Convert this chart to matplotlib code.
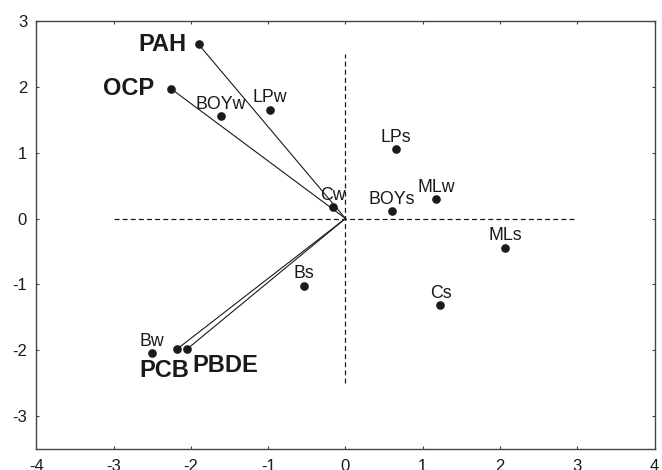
import matplotlib
matplotlib.use("Agg")
import matplotlib.pyplot as plt

plt.rcParams['font.family'] = ['Liberation Sans', 'DejaVu Sans']

# Sample scores
sample_names = ["BOYw", "LPw", "Cw", "LPs", "BOYs", "MLw", "MLs", "Cs", "Bs", "Bw"]
sample_x = [-1.61, -0.98, -0.16, 0.65, 0.60, 1.17, 2.07, 1.23, -0.54, -2.50]
sample_y = [1.55, 1.65, 0.17, 1.05, 0.11, 0.29, -0.44, -1.31, -1.02, -2.04]

# Variable loadings (vectors from origin)
var_names = ["PAH", "OCP", "PCB", "PBDE"]
var_x = [-1.90, -2.26, -2.18, -2.05]
var_y = [2.64, 1.97, -1.98, -1.98]

xticks = [-4, -3, -2, -1, 0, 1, 2, 3, 4]
yticks = [-3, -2, -1, 0, 1, 2, 3]

fig = plt.figure(figsize=(6.62, 4.70), dpi=100)
ax = fig.add_axes([0.055, 0.044, 0.9337, 0.912])
ax.set_xlim(-4, 4)
ax.set_ylim(-3.5, 3)

dark = '#1a1a1a'

# dashed reference axes
ax.plot([-3, 3], [0, 0], ls=(0, (4, 2.5)), color=dark, lw=0.9, zorder=1)
ax.plot([0, 0], [-2.5, 2.5], ls=(0, (4, 2.5)), color=dark, lw=0.9, zorder=1)

# vectors
for vx, vy in zip(var_x, var_y):
    ax.plot([0, vx], [0, vy], color=dark, lw=0.8, zorder=2)

ax.plot(var_x, var_y, 'o', color=dark, ms=5.2, zorder=3)
ax.plot(sample_x, sample_y, 'o', color=dark, ms=5.2, zorder=3)

# sample labels above points
for n, sx, sy in zip(sample_names, sample_x, sample_y):
    ax.annotate(n, (sx, sy), xytext=(0, 5.3), textcoords='offset points',
                ha='center', va='baseline', fontsize=12.8, color=dark)

# variable labels
var_offsets = {"PAH": (-9, 0, 'right', 'center'),
               "OCP": (-12, 0, 'right', 'center'),
               "PCB": (-9.3, -15.6, 'center', 'center'),
               "PBDE": (3.6, -12, 'left', 'center')}
for n, vx, vy in zip(var_names, var_x, var_y):
    dx, dy, ha, va = var_offsets[n]
    ax.annotate(n, (vx, vy), xytext=(dx, dy), textcoords='offset points',
                ha=ha, va=va, fontsize=17, fontweight='bold', color=dark)

ax.set_xticks(xticks)
ax.set_yticks(yticks)
ax.set_xticklabels([str(t) for t in xticks])
ax.set_yticklabels([str(t) for t in yticks])
ax.tick_params(direction='in', length=2.5, width=0.8, colors='#444444',
               labelcolor=dark, labelsize=12, pad=6.7,
               top=True, right=True)
for s in ax.spines.values():
    s.set_linewidth(1.0)
    s.set_color('#444444')

fig.savefig("out.png", dpi=100)
